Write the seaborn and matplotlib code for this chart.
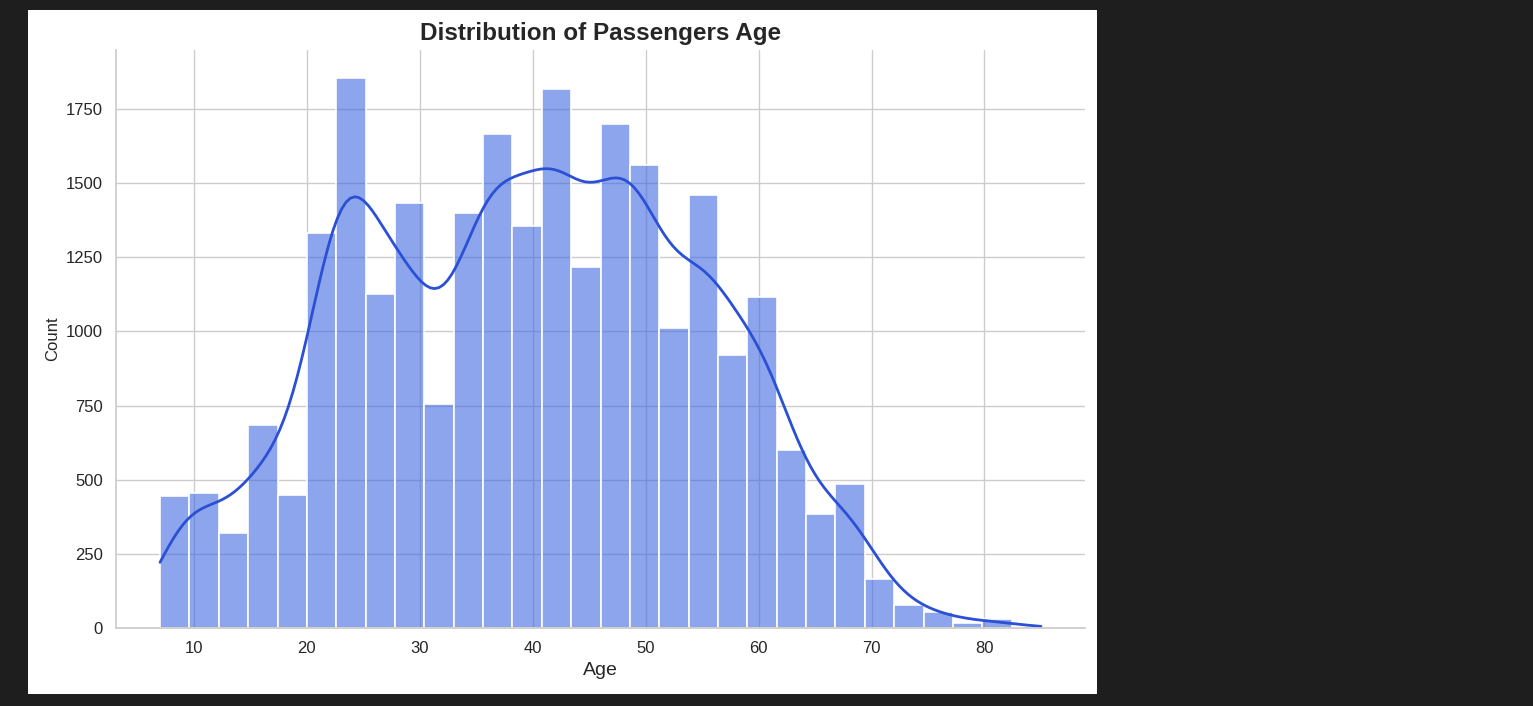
import numpy as np
import pandas as pd
import matplotlib
matplotlib.use('Agg')
import matplotlib.pyplot as plt
from matplotlib.patches import Rectangle
import seaborn as sns

# counts (30 bins between min and max age)
age_min = 7
age_max = 85
counts = [444, 454, 321, 685, 449, 1332, 1856, 1125, 1434, 756,
          1400, 1665, 1356, 1817, 1216, 1699, 1562, 1010, 1459, 921,
          1116, 601, 386, 486, 165, 77, 54, 18, 30, 4]

n_bins = len(counts)
edges = np.linspace(age_min, age_max, n_bins + 1)
centers = (edges[:-1] + edges[1:]) / 2

# add the extreme ages with zero weight so the kde spans the full range
df = pd.DataFrame({
    'Age': np.concatenate([[age_min], centers, [age_max]]),
    'w': np.concatenate([[0], counts, [0]]),
})

sns.set_theme(style='whitegrid')
plt.rcParams['font.family'] = ['Liberation Sans', 'DejaVu Sans']

fig = plt.figure(figsize=(15.33, 7.06), dpi=100, facecolor='#1e1e1e')
fig.patches.append(Rectangle((28 / 1533, 12 / 706), 1069 / 1533, 684 / 706,
                             transform=fig.transFigure, facecolor='white',
                             edgecolor='none', zorder=-10))
ax = fig.add_axes([116 / 1533, 78 / 706, 969 / 1533, 578 / 706])
ax.set_zorder(5)

sns.histplot(data=df, x='Age', weights='w', bins=n_bins, kde=True,
             color='royalblue', alpha=0.6, edgecolor='white', linewidth=1.2,
             kde_kws={'bw_adjust': 0.3}, line_kws={'linewidth': 2}, ax=ax)
ax.lines[0].set_color('#2b50d6')

ax.set_title('Distribution of Passengers Age', fontsize=17.5, fontweight='bold', pad=7)
ax.set_xlabel('Age', fontsize=14)
ax.set_ylabel('Count', fontsize=12)
ax.set_yticks(np.arange(0, 2000, 250))
ax.tick_params(labelsize=12)
sns.despine(ax=ax)

fig.savefig('out.png', dpi=100, facecolor=fig.get_facecolor())
